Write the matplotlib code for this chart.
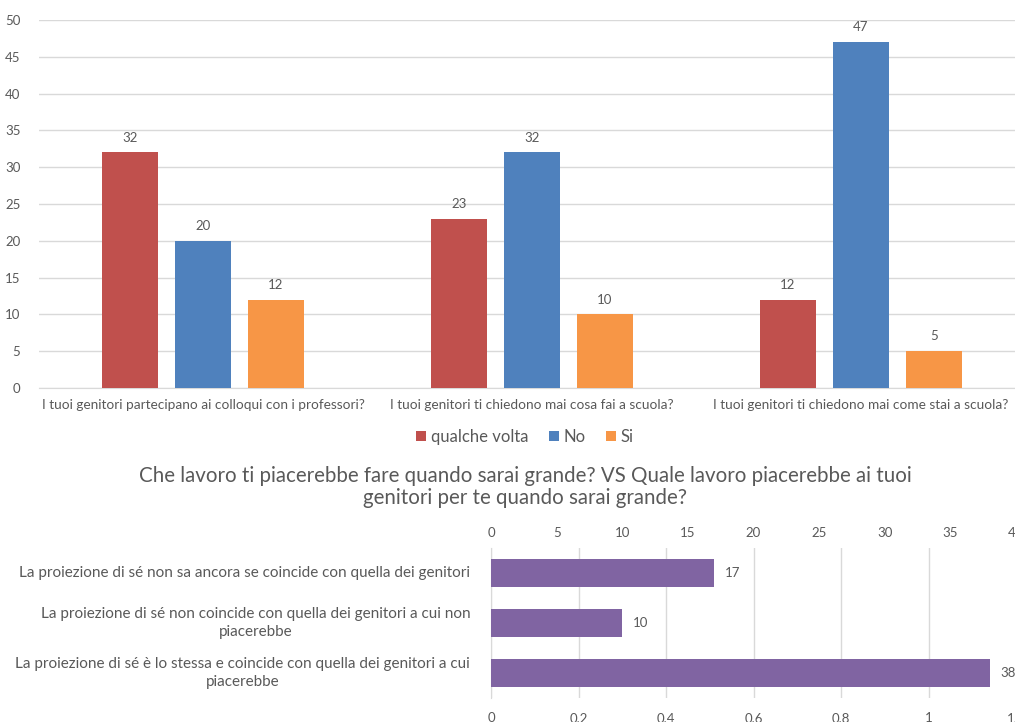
import matplotlib
matplotlib.use("Agg")
import matplotlib.pyplot as plt
import numpy as np
from matplotlib.patches import Patch
from matplotlib.ticker import FuncFormatter
from matplotlib.transforms import offset_copy

plt.rcParams['font.family'] = ['Lato', 'DejaVu Sans']

# ---- data: top chart
questions = [
    "I tuoi genitori partecipano ai colloqui con i professori?",
    "I tuoi genitori ti chiedono mai cosa fai a scuola?",
    "I tuoi genitori ti chiedono mai come stai a scuola?",
]
series_names = ["qualche volta", "No", "Si"]
qualche_volta = [32, 23, 12]
no_vals = [20, 32, 47]
si_vals = [12, 10, 5]
series_colors = ["#C0504D", "#4F81BD", "#F79646"]

# ---- data: bottom chart
title_bottom = ("Che lavoro ti piacerebbe fare quando sarai grande? VS Quale lavoro piacerebbe ai tuoi\n"
                "genitori per te quando sarai grande?")
projections = [
    "La proiezione di sé non sa ancora se coincide con quella dei genitori",
    "La proiezione di sé non coincide con quella dei genitori a cui non\npiacerebbe",
    "La proiezione di sé è lo stessa e coincide con quella dei genitori a cui\npiacerebbe",
]
projection_vals = [17, 10, 38]

TXT = "#595959"
GRID = "#D9D9D9"

fig = plt.figure(figsize=(10.15, 7.22), dpi=100)

# ================= top chart =================
ax = fig.add_axes([38.5 / 1015, 1 - 388 / 722, 987 / 1015, (388 - 20) / 722])
x = np.arange(len(questions))
w = 0.173
step = 0.222
all_series = [qualche_volta, no_vals, si_vals]
for i, (vals, col, name) in enumerate(zip(all_series, series_colors, series_names)):
    pos = x + (i - 1) * step
    ax.bar(pos, vals, width=w, color=col, label=name, zorder=3)
    for p, v in zip(pos, vals):
        ax.text(p, v + 1.2, str(v), ha='center', va='bottom', fontsize=9.5, color=TXT)

ax.set_xlim(-0.5, 2.5)
ax.set_ylim(0, 50)
ax.set_yticks(range(0, 51, 5))
ax.yaxis.grid(True, color=GRID, linewidth=1, zorder=0)
ax.set_axisbelow(True)
for s in ['top', 'right', 'left']:
    ax.spines[s].set_visible(False)
ax.spines['bottom'].set_color(GRID)
ax.tick_params(axis='y', length=0, pad=13, labelsize=9.5, labelcolor=TXT)
ax.tick_params(axis='x', length=0, pad=8, labelsize=9.8, labelcolor=TXT)
ax.set_xticks(x)
ax.set_xticklabels(questions)

handles = [Patch(facecolor=c, edgecolor='none') for c in series_colors]
fig.legend(handles, series_names, loc='center', bbox_to_anchor=(525 / 1015, 1 - 437 / 722),
           ncol=3, frameon=False, fontsize=12, labelcolor=TXT, handlelength=0.6,
           handleheight=0.6, handletextpad=0.3, columnspacing=1.2)

# ================= bottom chart =================
fig.text(525 / 1015, 1 - 487 / 722, title_bottom, ha='center', va='center',
         fontsize=14.8, color=TXT, linespacing=1.15)

ax2 = fig.add_axes([491 / 1015, 1 - 698 / 722, 525 / 1015, (698 - 548) / 722])
ax3 = ax2.twiny()

y = np.arange(len(projections))
ax2.barh(y, projection_vals, height=0.55, color="#8064A2", zorder=3)
for yy, v in zip(y, projection_vals):
    ax2.text(v + 0.8, yy, str(v), ha='left', va='center', fontsize=9.5, color=TXT)
ax2.set_ylim(2.5, -0.5)
ax2.set_xlim(0, 40)
ax2.set_yticks([])
lab_tr = offset_copy(ax2.get_yaxis_transform(), fig=fig, x=-15, y=0, units='points')
for yy, lab in zip(y, projections):
    ax2.text(0, yy, lab, transform=lab_tr, ha='right', va='center',
             multialignment='center', fontsize=11, color=TXT, linespacing=1.45)
ax2.xaxis.tick_top()
ax2.set_xticks(range(0, 41, 5))
ax2.tick_params(axis='x', length=0, pad=6.5, labelsize=9.5, labelcolor=TXT)
for s in ['top', 'right', 'bottom']:
    ax2.spines[s].set_visible(False)
ax2.spines['left'].set_color(GRID)

# secondary (empty) axis at the bottom with 0..1.2 scale
ax3.set_xlim(0, 1.2)
ax3.xaxis.tick_bottom()
ax3.set_xticks(np.arange(0, 1.21, 0.2))
ax3.xaxis.set_major_formatter(FuncFormatter(
    lambda v, p: ('%g' % round(v, 1)).replace('.', ',')))
ax3.tick_params(axis='x', length=0, pad=10, labelsize=9.5, labelcolor=TXT)
ax3.xaxis.grid(True, color=GRID, linewidth=1)
ax3.set_zorder(0)
ax2.set_zorder(1)
ax2.patch.set_visible(False)
for s in ['top', 'right', 'bottom', 'left']:
    ax3.spines[s].set_visible(False)

fig.savefig("out.png", dpi=100, facecolor='white')
